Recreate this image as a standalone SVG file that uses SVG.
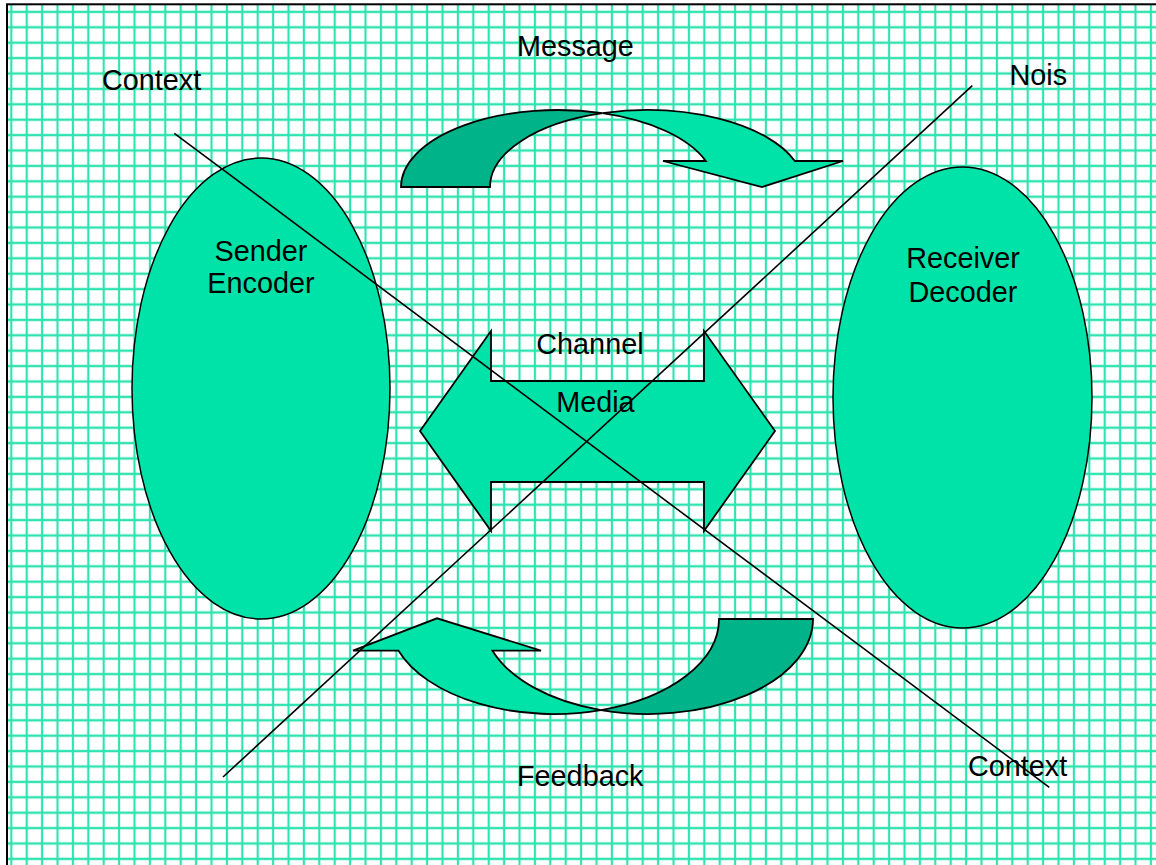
<svg xmlns="http://www.w3.org/2000/svg" width="1156" height="865" viewBox="0 0 1156 865">
<defs>
<pattern id="grid" patternUnits="userSpaceOnUse" x="3.6" y="4.2" width="15.4" height="15.4">
<path d="M7.7,0 V15.4 M0,7.7 H15.4" stroke="#2fe3b0" stroke-width="2.2" fill="none"/>
</pattern>
<style>
.lt{fill:#00e3a8;stroke:#000;stroke-width:1.8;stroke-linejoin:miter}
.dk{fill:#00b388;stroke:#000;stroke-width:1.8}
.el{fill:#00e3a8;stroke:#000;stroke-width:1.5}
.t{font-family:"Liberation Sans",Arial,sans-serif;font-size:28.8px;fill:#000}
.c{text-anchor:middle}
.ln{stroke:#000;stroke-width:1.6;fill:none}
</style>
</defs>
<rect x="0" y="0" width="1156" height="865" fill="#fff"/>
<rect x="7" y="4.3" width="1160" height="870" fill="url(#grid)" stroke="#000" stroke-width="2"/>
<g id="sender">
<ellipse class="el" cx="261" cy="388.5" rx="129" ry="230.5"/>
<text class="t c" x="261" y="261">Sender</text>
<text class="t c" x="261" y="293">Encoder</text>
</g>
<g id="receiver">
<ellipse class="el" cx="962.5" cy="397.5" rx="129.5" ry="230.5"/>
<text class="t c" x="963" y="268">Receiver</text>
<text class="t c" x="963" y="302">Decoder</text>
</g>
<g id="message">
<path class="dk" d="M401,187 A157,77 0 0 1 602.5,113.2 A157,77 0 0 0 490,187 Z"/>
<path class="lt" d="M602.5,113.2 A157,77 0 0 1 794.8,161 L843,161 L762,187 L663,161 L705.8,161 A157,77 0 0 0 602.5,113.2 Z"/>
<text class="t" x="517" y="56">Message</text>
</g>
<g id="channel">
<polygon class="lt" points="420,431 491,331 491,381 704,381 704,331 775,431 704,531 704,482 491,482 491,531"/>
<text class="t" x="536.3" y="354">Channel</text>
<text class="t" x="556.2" y="411.7">Media</text>
</g>
<g id="feedback">
<path class="dk" d="M813,619 A165,95 0 0 1 601,710.1 A165,95 0 0 0 719,619 Z"/>
<path class="lt" d="M601,710.1 A165,95 0 0 1 398.5,650.7 L353,650.7 L437,618.3 L541,650.7 L492.5,650.7 A165,95 0 0 0 601,710.1 Z"/>
<text class="t" x="517" y="786">Feedback</text>
</g>
<g id="context-labels">
<text class="t" x="102" y="90">Context</text>
<text class="t" x="968" y="776">Context</text>
</g>
<g id="noise-label">
<text class="t" x="1009.5" y="85">Nois</text>
</g>
<g id="connectors">
<line class="ln" x1="174.3" y1="133.3" x2="1049.3" y2="787.3"/>
<line class="ln" x1="972.3" y1="85.7" x2="223" y2="777"/>
</g>
</svg>
